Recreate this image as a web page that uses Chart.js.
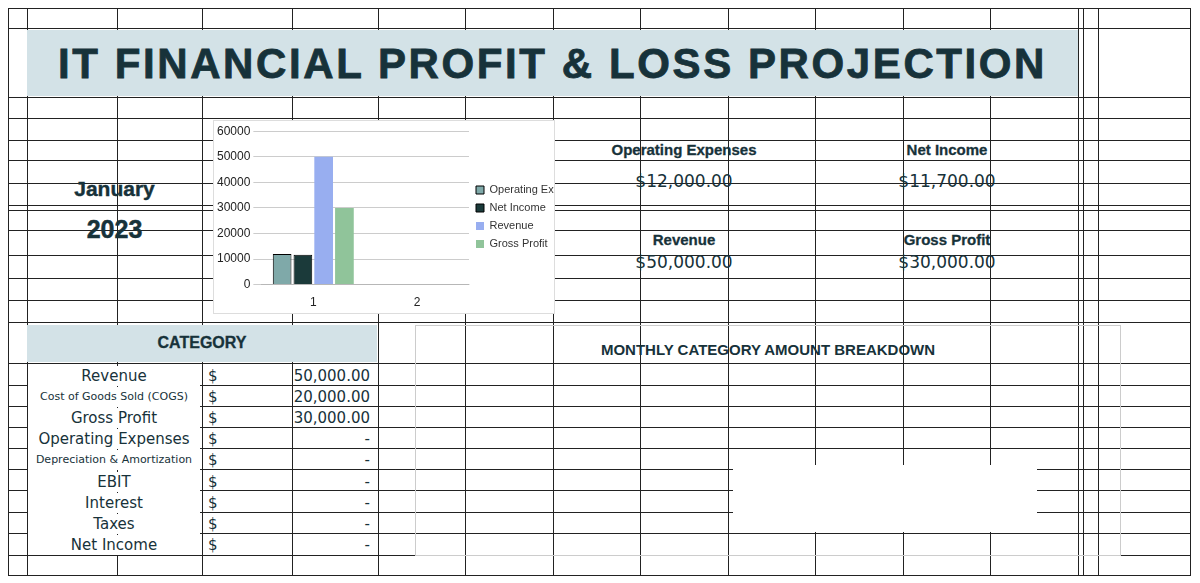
<!DOCTYPE html>
<html><head><meta charset="utf-8">
<script src="https://cdn.jsdelivr.net/npm/chart.js"></script>
<style>
body{margin:0;width:1200px;height:583px;background:#fff;position:relative;overflow:hidden;font-family:"Liberation Sans",Arial,sans-serif;color:#17323a}
.l{position:absolute;background:#222}
.a{position:absolute;white-space:nowrap}
</style></head><body>
<div id="grid"></div>
<div class="a" style="left:27px;top:30px;width:1051px;height:66px;background:#d3e2e7"></div>
<div class="a" style="left:27px;top:325px;width:350px;height:37px;background:#d3e2e7"></div>
<div class="a" style="left:27px;top:30px;width:1051px;line-height:68px;text-align:center;font-weight:900;font-size:42px;letter-spacing:2.6px;color:#17323a;-webkit-text-stroke:0.8px #17323a">IT FINANCIAL PROFIT &amp; LOSS PROJECTION</div>
<div class="a" style="left:27px;width:175px;top:177px;text-align:center;font-weight:bold;font-size:21px;-webkit-text-stroke:0.4px #17323a">January</div>
<div class="a" style="left:27px;width:175px;top:215px;text-align:center;font-weight:bold;font-size:25px;-webkit-text-stroke:0.5px #17323a">2023</div>
<div id="kpi"></div>
<div class="a" style="left:27px;width:350px;top:334px;text-align:center;font-weight:bold;font-size:16px;-webkit-text-stroke:0.3px #17323a">CATEGORY</div>
<div id="tbl"></div>
<div class="a" style="left:415px;top:325px;width:704px;height:229px;border:1px solid #ccc"></div>
<div class="a" style="left:733px;top:465px;width:304px;height:67px;background:#fff"></div>
<div class="a" style="left:415px;width:706px;top:341px;text-align:center;font-weight:bold;font-size:15px;color:#17323a">MONTHLY CATEGORY AMOUNT BREAKDOWN</div>
<div class="a" style="left:213px;top:120px;width:340px;height:192px;background:#fff;border:1px solid #ddd"><canvas id="c"></canvas></div>
<script>
const categories=["1","2"];
const opExp=[12000,0], netIncome=[11700,0], revenue=[50000,0], grossProfit=[30000,0];
const yTicks=[0,10000,20000,30000,40000,50000,60000];
const kpis=[["Operating Expenses","$12,000.00",684,150,182],["Net Income","$11,700.00",947,150,182],["Revenue","$50,000.00",684,240,263],["Gross Profit","$30,000.00",947,240,263]];
const rowNames=["Revenue","Cost of Goods Sold (COGS)","Gross Profit","Operating Expenses","Depreciation & Amortization","EBIT","Interest","Taxes","Net Income"];
const rowVals=["50,000.00","20,000.00","30,000.00","-","-","-","-","-","-"];
const cols=[8,27,117,202,292,378,465,553,640,728,815,903,990,1078,1083,1098,1190];
const rows=[8,28,97,118,140,160,183,205,210,230,255,278,300,322,363,385,406,427,448,469,490,512,533,555,575];
const g=document.getElementById('grid');let h='';
cols.forEach(x=>h+=`<div class="l" style="left:${x}px;top:8px;width:1px;height:568px"></div>`);
rows.forEach(y=>h+=`<div class="l" style="left:8px;top:${y}px;width:1183px;height:1px"></div>`);
g.innerHTML=h;
let k='';kpis.forEach(([t,v,x,y1,y2])=>{k+=`<div class="a" style="left:${x-130}px;width:260px;top:${y1-9}px;text-align:center;font-weight:bold;font-size:15px;-webkit-text-stroke:0.3px #17323a">${t}</div><div class="a" style="left:${x-130}px;width:260px;top:${y2-11}px;text-align:center;font-size:17px;font-family:'DejaVu Sans'">${v}</div>`});
document.getElementById('kpi').innerHTML=k;
let t='';rowNames.forEach((n,i)=>{const y=366+i*21.1;const fs=n.length>20?11:15;t+=`<div class="a" style="left:28px;width:172px;top:${y}px;height:20px;line-height:20px;background:#fff;text-align:center;font-size:${fs}px;font-family:'DejaVu Sans'">${n}</div><div class="a" style="left:208px;top:${y}px;line-height:20px;font-size:15px;font-family:'DejaVu Sans'">$</div><div class="a" style="left:220px;width:150px;top:${y}px;line-height:20px;text-align:right;font-size:15px;font-family:'DejaVu Sans'">${rowVals[i]}</div>`});
document.getElementById('tbl').innerHTML=t;
new Chart(document.getElementById('c'),{type:'bar',data:{labels:categories,datasets:[
{label:'Operating Expenses',data:opExp,backgroundColor:'#7fa9a9',borderColor:'#000',borderWidth:1},
{label:'Net Income',data:netIncome,backgroundColor:'#1b3a3a',borderColor:'#000',borderWidth:1},
{label:'Revenue',data:revenue,backgroundColor:'#98aef0'},
{label:'Gross Profit',data:grossProfit,backgroundColor:'#90c49a'}]},
options:{responsive:true,maintainAspectRatio:false,animation:false,
plugins:{legend:{position:'right',align:'center',labels:{boxWidth:8,boxHeight:8,padding:7,font:{size:11},color:'#333'}}},
scales:{y:{min:0,max:60000,afterBuildTicks:s=>{s.ticks=yTicks.map(v=>({value:v}))},ticks:{color:'#222',font:{size:12},callback:v=>String(v)},grid:{color:'#ccc'},border:{display:false}},
x:{ticks:{color:'#222',font:{size:12}},grid:{display:false}}}}});
</script></body></html>
